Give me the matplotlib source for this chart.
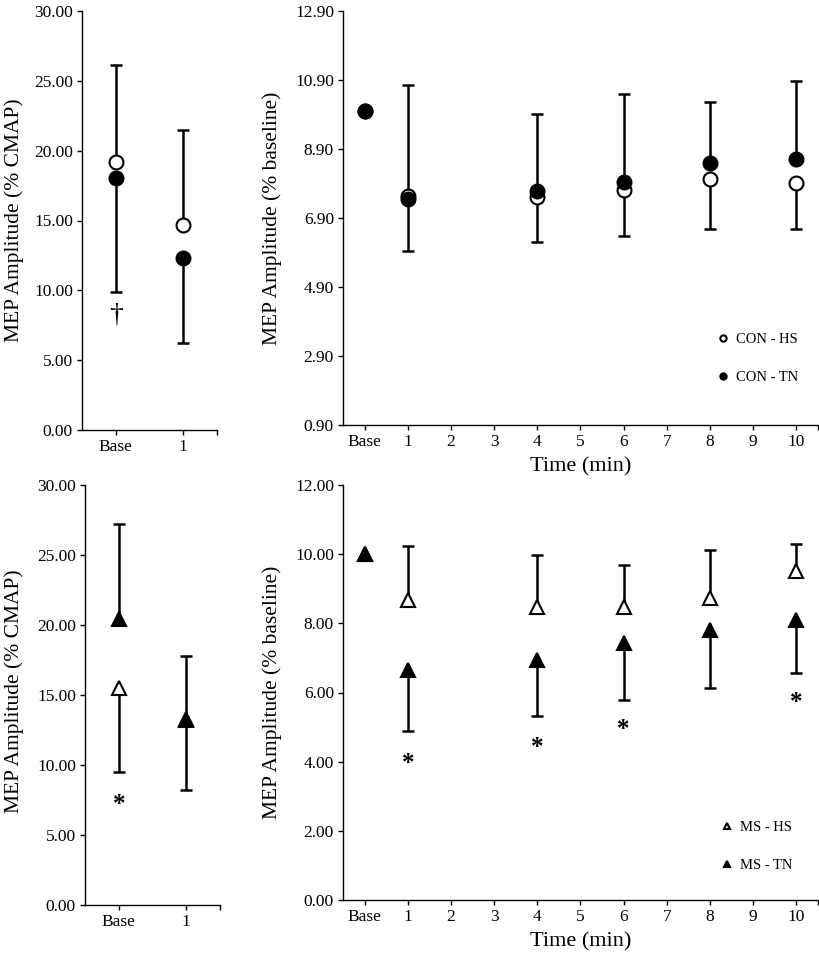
# -*- coding: utf-8 -*-
"""
MEP amplitude, CON and MS groups, HS vs TN
"""

import numpy as np
import matplotlib
matplotlib.use('Agg')
import matplotlib.pyplot as plt

plt.rcParams['font.family'] = ['Liberation Serif', 'DejaVu Serif']

# 数据 (% CMAP)
short_x = [0, 1]
short_labels = ['Base', '1']

con_hs_cmap = [19.2, 14.65]
con_hs_cmap_sd = [6.95, 6.85]      # 向上
con_tn_cmap = [18.05, 12.33]
con_tn_cmap_sd = [8.15, 6.13]      # 向下

ms_hs_cmap = [15.5, 13.2]
ms_hs_cmap_sd = [6.0, 5.0]         # 向下
ms_tn_cmap = [20.4, 13.26]
ms_tn_cmap_sd = [6.8, 4.54]        # 向上

# 数据 (% baseline)
time_x = [0, 1, 4, 6, 8, 10]
time_ticks = list(range(11))
time_labels = ['Base'] + [str(t) for t in range(1, 11)]

con_hs = [10.0, 7.53, 7.50, 7.70, 8.04, 7.91]
con_hs_sd = [0, 1.59, 1.30, 1.32, 1.47, 1.34]      # 向下
con_tn = [10.0, 7.46, 7.68, 7.94, 8.50, 8.61]
con_tn_sd = [0, 3.29, 2.22, 2.56, 1.75, 2.25]      # 向上

ms_hs = [10.0, 8.68, 8.46, 8.46, 8.74, 9.52]
ms_hs_sd = [0, 1.57, 1.51, 1.22, 1.38, 0.77]       # 向上
ms_tn = [10.0, 6.66, 6.93, 7.42, 7.82, 8.11]
ms_tn_sd = [0, 1.76, 1.62, 1.65, 1.68, 1.55]       # 向下

# 显著性标记
dagger_x, dagger_y = [0], [8.2]
star_cmap_x, star_cmap_y = [0], [7.2]
star_x = [1, 4, 6, 10]
star_y = [3.95, 4.42, 4.93, 5.72]

W, H = 820, 960
fig = plt.figure(figsize=(W / 100, H / 100), dpi=100)


def px_axes(left, top, right, bottom):
    return fig.add_axes([left / W, 1 - bottom / H, (right - left) / W, (bottom - top) / H])


def style(ax, xticks, xlabels, xlim, yticks, ylim):
    for s in ['top', 'right']:
        ax.spines[s].set_visible(False)
    for s in ['left', 'bottom']:
        ax.spines[s].set_linewidth(1.0)
    ax.set_xlim(*xlim)
    ax.set_ylim(*ylim)
    ax.set_xticks(list(xticks) + [xlim[1]])
    ax.set_xticklabels(list(xlabels) + [''])
    ax.set_yticks(yticks)
    ax.set_yticklabels(['%.2f' % v for v in yticks])
    ax.tick_params(direction='out', length=3.5, width=1.0, labelsize=12.5, pad=3)


def one_sided(ax, x, y, sd, sign):
    x, y, sd = np.asarray(x, float), np.asarray(y, float), np.asarray(sd, float)
    keep = sd > 0
    end = y + sign * sd
    ax.vlines(x[keep], y[keep], end[keep], colors='black', linewidth=1.8, zorder=2)
    ax.plot(x[keep], end[keep], linestyle='none', marker='_', markersize=8,
            markeredgewidth=1.8, color='black', zorder=2)


def points(ax, x, y, marker, filled, label, z):
    return ax.plot(x, y, linestyle='none', marker=marker, markersize=10,
                   markerfacecolor='black' if filled else 'white',
                   markeredgecolor='black', markeredgewidth=1.5,
                   label=label, zorder=z)[0]


# 左上
ax = px_axes(82, 11, 217, 430)
one_sided(ax, short_x, con_hs_cmap, con_hs_cmap_sd, +1)
one_sided(ax, short_x, con_tn_cmap, con_tn_cmap_sd, -1)
points(ax, short_x, con_hs_cmap, 'o', False, 'CON - HS', 3)
points(ax, short_x, con_tn_cmap, 'o', True, 'CON - TN', 4)
for xx, yy in zip(dagger_x, dagger_y):
    ax.text(xx, yy, '\u2020', ha='center', va='center', fontsize=20)
style(ax, short_x, short_labels, (-0.5, 1.5), np.arange(0, 30.1, 5), (0, 30))

# 右上
ax = px_axes(343, 11, 818, 425)
one_sided(ax, time_x, con_hs, con_hs_sd, -1)
one_sided(ax, time_x, con_tn, con_tn_sd, +1)
h1 = points(ax, time_x, con_hs, 'o', False, 'CON - HS', 3)
h2 = points(ax, time_x, con_tn, 'o', True, 'CON - TN', 4)
style(ax, time_ticks, time_labels, (-0.5, 10.5), np.arange(0.9, 13.0, 2), (0.9, 12.9))
ax.set_xlabel('Time (min)', fontsize=16, labelpad=5)
ax.legend([h1, h2], ['CON - HS', 'CON - TN'], markerscale=0.45, frameon=False,
          loc='upper left', bbox_to_anchor=(0.791, 0.222), borderaxespad=0, borderpad=0,
          fontsize=10.5, labelspacing=1.7, handlelength=0.6, handletextpad=0.6)

# 左下
ax = px_axes(85, 485, 220, 905)
one_sided(ax, short_x, ms_hs_cmap, ms_hs_cmap_sd, -1)
one_sided(ax, short_x, ms_tn_cmap, ms_tn_cmap_sd, +1)
points(ax, short_x, ms_hs_cmap, '^', False, 'MS - HS', 3)
points(ax, short_x, ms_tn_cmap, '^', True, 'MS - TN', 4)
for xx, yy in zip(star_cmap_x, star_cmap_y):
    ax.text(xx, yy, '*', ha='center', va='center', fontsize=18, fontweight='bold')
style(ax, short_x, short_labels, (-0.5, 1.5), np.arange(0, 30.1, 5), (0, 30))

# 右下
ax = px_axes(343, 485, 818, 900)
one_sided(ax, time_x, ms_hs, ms_hs_sd, +1)
one_sided(ax, time_x, ms_tn, ms_tn_sd, -1)
h3 = points(ax, time_x, ms_hs, '^', False, 'MS - HS', 3)
h4 = points(ax, time_x, ms_tn, '^', True, 'MS - TN', 4)
for xx, yy in zip(star_x, star_y):
    ax.text(xx, yy, '*', ha='center', va='center', fontsize=18, fontweight='bold')
style(ax, time_ticks, time_labels, (-0.5, 10.5), np.arange(0, 12.1, 2), (0, 12))
ax.set_xlabel('Time (min)', fontsize=16, labelpad=5)
ax.legend([h3, h4], ['MS - HS', 'MS - TN'], markerscale=0.45, frameon=False,
          loc='upper left', bbox_to_anchor=(0.799, 0.19), borderaxespad=0, borderpad=0,
          fontsize=10.5, labelspacing=1.7, handlelength=0.6, handletextpad=0.6)

# 纵轴标题
fig.text(14 / W, 1 - 220 / H, 'MEP Amplitude (% CMAP)', rotation=90, ha='center', va='center', fontsize=15.5)
fig.text(14 / W, 1 - 691 / H, 'MEP Amplitude (% CMAP)', rotation=90, ha='center', va='center', fontsize=15.5)
fig.text(272 / W, 1 - 218 / H, 'MEP Amplitude (% baseline)', rotation=90, ha='center', va='center', fontsize=15.5)
fig.text(272 / W, 1 - 692 / H, 'MEP Amplitude (% baseline)', rotation=90, ha='center', va='center', fontsize=15.5)

fig.savefig('out.png', dpi=100)
